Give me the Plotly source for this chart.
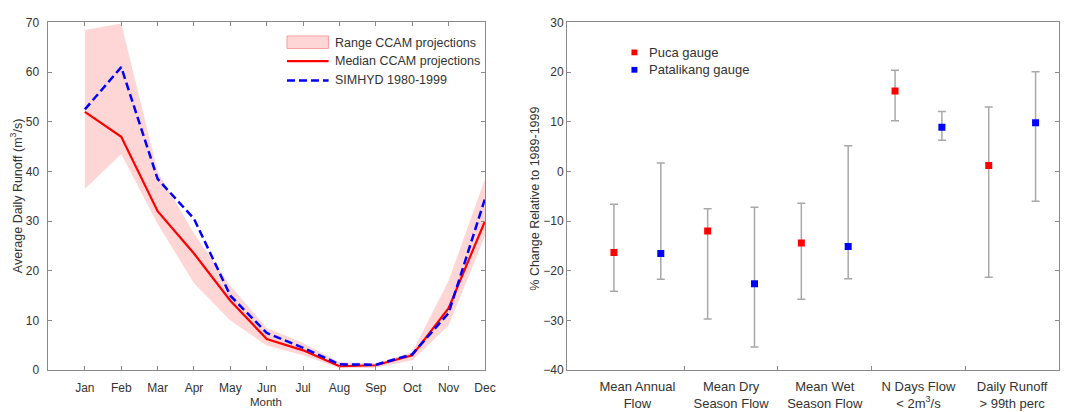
import plotly.graph_objects as go

# ---------------- Data ----------------
months = ["Jan", "Feb", "Mar", "Apr", "May", "Jun", "Jul", "Aug", "Sep", "Oct", "Nov", "Dec"]
month_pos = list(range(1, 13))
range_upper = [68.5, 69.8, 40.0, 27.5, 17.0, 8.5, 5.5, 1.6, 1.4, 3.6, 18.0, 38.5]
range_lower = [36.5, 43.5, 29.5, 17.5, 10.0, 5.0, 3.0, 0.4, 0.5, 2.0, 9.0, 27.0]
median_ccam = [52.0, 47.0, 32.0, 23.5, 14.0, 6.3, 4.0, 0.8, 1.0, 3.0, 12.5, 30.0]
simhyd = [52.5, 61.0, 38.5, 30.5, 15.0, 7.5, 4.5, 1.2, 1.1, 3.2, 11.5, 34.5]

categories = ["Mean Annual<br>Flow", "Mean Dry<br>Season Flow", "Mean Wet<br>Season Flow",
              "N Days Flow<br>&lt; 2m<sup>3</sup>/s", "Daily Runoff<br>&gt; 99th perc"]
cat_pos = [1, 2, 3, 4, 5]
puca_val = [-16.3, -12.0, -14.4, 16.2, 1.2]
puca_hi = [-6.6, -7.5, -6.4, 20.4, 13.0]
puca_lo = [-24.1, -29.7, -25.7, 10.2, -21.3]
pata_val = [-16.5, -22.6, -15.1, 8.9, 9.8]
pata_hi = [1.7, -7.2, 5.2, 12.1, 20.1]
pata_lo = [-21.7, -35.3, -21.6, 6.3, -6.0]

W, H = 1070, 412
OFFSET = 0.25

def px_x(p):
    return p / W

def px_y(p):
    return 1 - p / H

fig = go.Figure()

# ---------------- Left panel ----------------
fig.add_trace(go.Scatter(x=month_pos, y=range_lower, mode="lines", line=dict(width=0, color="rgba(0,0,0,0)"),
                         showlegend=False, hoverinfo="skip", xaxis="x", yaxis="y"))
fig.add_trace(go.Scatter(x=month_pos, y=range_upper, mode="lines", line=dict(width=0, color="rgba(0,0,0,0)"),
                         fill="tonexty", fillcolor="rgb(255,214,214)", showlegend=False, xaxis="x", yaxis="y"))
fig.add_trace(go.Scatter(x=month_pos, y=median_ccam, mode="lines", line=dict(color="#FF0000", width=2.2),
                         showlegend=False, xaxis="x", yaxis="y"))
fig.add_trace(go.Scatter(x=month_pos, y=simhyd, mode="lines",
                         line=dict(color="#0000FF", width=2.5, dash="8px,4px"),
                         showlegend=False, xaxis="x", yaxis="y"))

# ---------------- Right panel ----------------
fig.add_trace(go.Scatter(
    x=[c - OFFSET for c in cat_pos], y=puca_val, mode="markers",
    marker=dict(symbol="square", size=7, color="#FF0000"),
    error_y=dict(type="data", symmetric=False,
                 array=[h - v for h, v in zip(puca_hi, puca_val)],
                 arrayminus=[v - l for v, l in zip(puca_val, puca_lo)],
                 color="#A8A8A8", thickness=1.5, width=4),
    showlegend=False, xaxis="x2", yaxis="y2"))
fig.add_trace(go.Scatter(
    x=[c + OFFSET for c in cat_pos], y=pata_val, mode="markers",
    marker=dict(symbol="square", size=7, color="#0000FF"),
    error_y=dict(type="data", symmetric=False,
                 array=[h - v for h, v in zip(pata_hi, pata_val)],
                 arrayminus=[v - l for v, l in zip(pata_val, pata_lo)],
                 color="#A8A8A8", thickness=1.5, width=4),
    showlegend=False, xaxis="x2", yaxis="y2"))

axis_col = "#8a8a8a"
FAM = "Arial, Liberation Sans, sans-serif"
tick_font = dict(family=FAM, size=12, color="#333333")

fig.update_layout(
    width=W, height=H,
    margin=dict(l=0, r=0, t=0, b=0),
    paper_bgcolor="white", plot_bgcolor="white",
    font=dict(family=FAM, color="#333333"),
    xaxis=dict(domain=[px_x(49), px_x(490)], range=[0, 12], tickvals=month_pos, ticktext=months,
               ticks="inside", ticklen=4, tickcolor=axis_col, showline=True, linecolor=axis_col,
               mirror="ticks", showgrid=False, zeroline=False, tickfont=tick_font, anchor="y",
               ticklabelstandoff=6),
    yaxis=dict(domain=[px_y(376), px_y(16)], range=[0, 70], dtick=10,
               ticks="inside", ticklen=4, tickcolor=axis_col, showline=True, linecolor=axis_col,
               mirror="ticks", showgrid=False, zeroline=False, tickfont=tick_font, anchor="x",
               ticklabelstandoff=6),
    xaxis2=dict(domain=[px_x(573), 1.0], range=[0.25, 5.5], tickvals=cat_pos, ticktext=categories,
                ticks="", showline=True, linecolor=axis_col, mirror=True,
                minor=dict(tickvals=[1.5, 2.5, 3.5, 4.5], ticks="inside", ticklen=4, tickcolor=axis_col),
                showgrid=False, zeroline=False, tickfont=dict(family=FAM, size=13, color="#333333"),
                anchor="y2", ticklabelstandoff=4),
    yaxis2=dict(domain=[px_y(376), px_y(16)], range=[-40, 30], dtick=10,
                ticks="inside", ticklen=4, tickcolor=axis_col, showline=True, linecolor=axis_col,
                mirror="ticks", showgrid=False, zeroline=False, tickfont=tick_font, anchor="x2"),
)

# Axis titles
fig.add_annotation(text="Average Daily Runoff (m<sup>3</sup>/s)", x=px_x(17), y=px_y(196),
                   xref="paper", yref="paper", xanchor="center", yanchor="middle",
                   textangle=-90, showarrow=False, font=dict(size=12.5, color="#333333"))
fig.add_annotation(text="Month", x=px_x(269), y=px_y(404), xref="paper", yref="paper",
                   xanchor="center", yanchor="middle", borderpad=0, yshift=-5,
                   showarrow=False, font=dict(size=11.5, color="#333333"))
fig.add_annotation(text="% Change Relative to 1989-1999", x=px_x(541), y=px_y(198),
                   xref="paper", yref="paper", xanchor="center", yanchor="middle",
                   textangle=-90, showarrow=False, font=dict(size=12.5, color="#333333"))

# Left legend (manual)
fig.add_shape(type="rect", xref="paper", yref="paper", x0=px_x(290), x1=px_x(332), y0=px_y(43), y1=px_y(30),
              fillcolor="rgb(255,214,214)", line=dict(color="rgb(245,160,160)", width=1))
fig.add_shape(type="line", xref="paper", yref="paper", x0=px_x(290), x1=px_x(332), y0=px_y(56), y1=px_y(56),
              line=dict(color="#FF0000", width=2.2))
fig.add_shape(type="line", xref="paper", yref="paper", x0=px_x(290), x1=px_x(332), y0=px_y(76), y1=px_y(76),
              line=dict(color="#0000FF", width=2.5, dash="8px,4px"))
for label, yy in [("Range CCAM projections", 37), ("Median CCAM projections", 56), ("SIMHYD 1980-1999", 76)]:
    fig.add_annotation(text=label, x=px_x(336), y=px_y(yy), xref="paper", yref="paper",
                       xanchor="left", yanchor="middle", showarrow=False,
                       font=dict(size=12.5, color="#333333"))

# Right legend (manual)
for label, col, yy in [("Puca gauge", "#FF0000", 47), ("Patalikang gauge", "#0000FF", 65)]:
    fig.add_shape(type="rect", xref="paper", yref="paper", x0=px_x(638), x1=px_x(644),
                  y0=px_y(yy + 3), y1=px_y(yy - 3), fillcolor=col, line=dict(width=0))
    fig.add_annotation(text=label, x=px_x(654), y=px_y(yy), xref="paper", yref="paper",
                       xanchor="left", yanchor="middle", showarrow=False,
                       font=dict(size=13, color="#333333"))

fig.write_html("out.html")
